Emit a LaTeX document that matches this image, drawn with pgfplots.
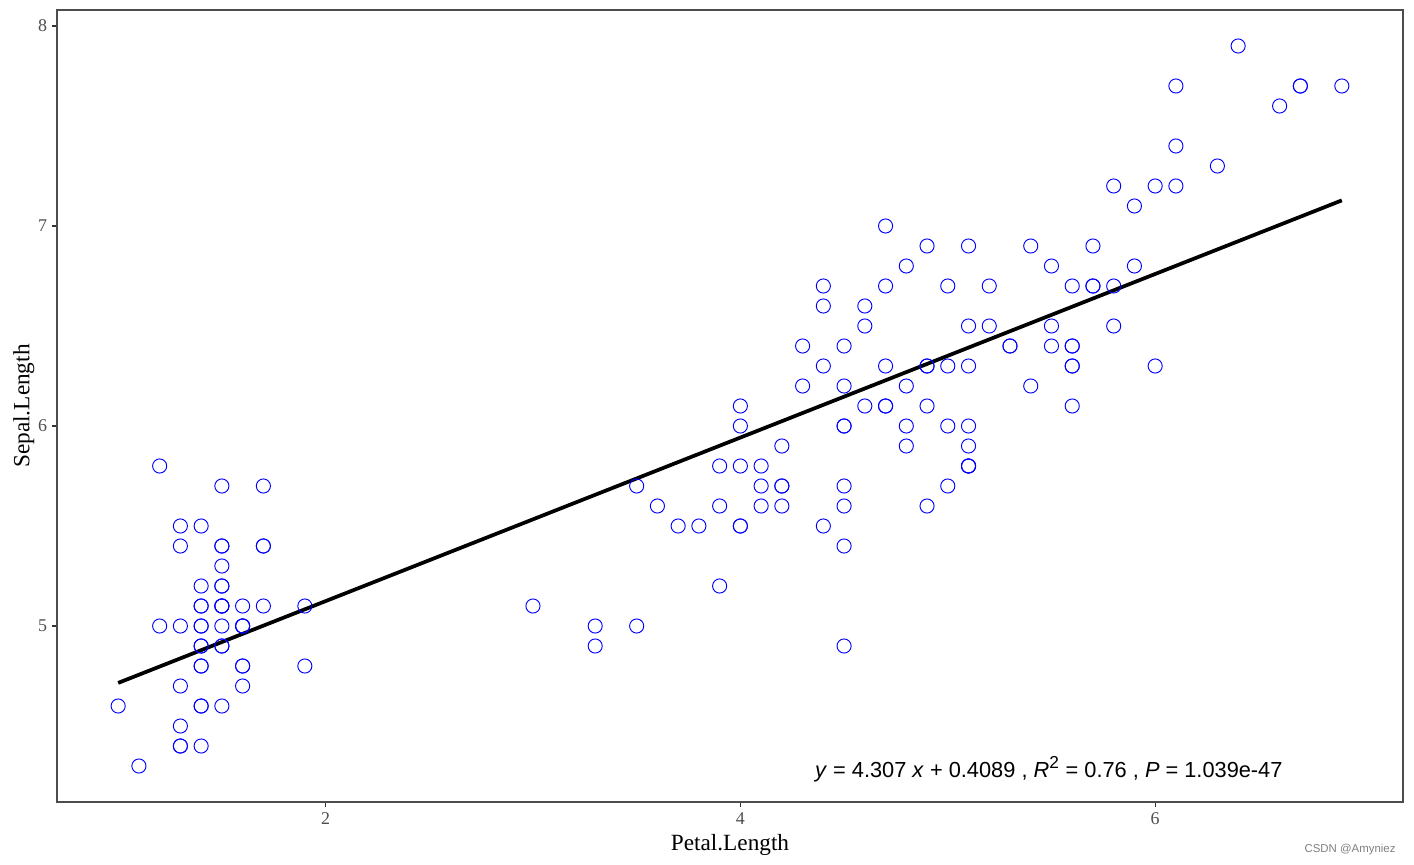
\documentclass[border=0pt]{standalone}
\usepackage{fontspec}
\setmainfont{Liberation Serif}
\newfontfamily\arial{Liberation Sans}
\usepackage{pgfplots}
\usepackage{pgfplotstable}
\pgfplotsset{compat=1.18}
\definecolor{axisgrey}{HTML}{4D4D4D}
\definecolor{tickgrey}{HTML}{333333}
\pgfplotstableread{
pl sl
1.4 5.1
1.4 4.9
1.3 4.7
1.5 4.6
1.4 5.0
1.7 5.4
1.4 4.6
1.5 5.0
1.4 4.4
1.5 4.9
1.5 5.4
1.6 4.8
1.4 4.8
1.1 4.3
1.2 5.8
1.5 5.7
1.3 5.4
1.4 5.1
1.7 5.7
1.5 5.1
1.7 5.4
1.5 5.1
1.0 4.6
1.7 5.1
1.9 4.8
1.6 5.0
1.6 5.0
1.5 5.2
1.4 5.2
1.6 4.7
1.6 4.8
1.5 5.4
1.5 5.2
1.4 5.5
1.5 4.9
1.2 5.0
1.3 5.5
1.4 4.9
1.3 4.4
1.5 5.1
1.3 5.0
1.3 4.5
1.3 4.4
1.6 5.0
1.9 5.1
1.4 4.8
1.6 5.1
1.4 4.6
1.5 5.3
1.4 5.0
4.7 7.0
4.5 6.4
4.9 6.9
4.0 5.5
4.6 6.5
4.5 5.7
4.7 6.3
3.3 4.9
4.6 6.6
3.9 5.2
3.5 5.0
4.2 5.9
4.0 6.0
4.7 6.1
3.6 5.6
4.4 6.7
4.5 5.6
4.1 5.8
4.5 6.2
3.9 5.6
4.8 5.9
4.0 6.1
4.9 6.3
4.7 6.1
4.3 6.4
4.4 6.6
4.8 6.8
5.0 6.7
4.5 6.0
3.5 5.7
3.8 5.5
3.7 5.5
3.9 5.8
5.1 6.0
4.5 5.4
4.5 6.0
4.7 6.7
4.4 6.3
4.1 5.6
4.0 5.5
4.4 5.5
4.6 6.1
4.0 5.8
3.3 5.0
4.2 5.6
4.2 5.7
4.2 5.7
4.3 6.2
3.0 5.1
4.1 5.7
6.0 6.3
5.1 5.8
5.9 7.1
5.6 6.3
5.8 6.5
6.6 7.6
4.5 4.9
6.3 7.3
5.8 6.7
6.1 7.2
5.1 6.5
5.3 6.4
5.5 6.8
5.0 5.7
5.1 5.8
5.3 6.4
5.5 6.5
6.7 7.7
6.9 7.7
5.0 6.0
5.7 6.9
4.9 5.6
6.7 7.7
4.9 6.3
5.7 6.7
6.0 7.2
4.8 6.2
4.9 6.1
5.6 6.4
5.8 7.2
6.1 7.4
6.4 7.9
5.6 6.4
5.1 6.3
5.6 6.1
6.1 7.7
5.6 6.3
5.5 6.4
4.8 6.0
5.4 6.9
5.6 6.7
5.1 6.9
5.1 5.8
5.9 6.8
5.7 6.7
5.2 6.7
5.0 6.3
5.2 6.5
5.4 6.2
5.1 5.9
}\iris
\begin{document}
\begin{tikzpicture}
\begin{axis}[
  width=1009.5bp, height=594bp, scale only axis,
  xmin=0.705, xmax=7.195, ymin=4.12, ymax=8.08,
  xtick={2,4,6}, ytick={5,6,7,8},
  axis line style={draw=axisgrey, line width=0.8bp},
  tick style={draw=tickgrey, line width=0.8bp},
  tick align=outside, major tick length=3.5bp,
  xtick pos=bottom, ytick pos=left,
  ticklabel style={font=\fontsize{13.5}{14}\selectfont, text=axisgrey},
  /pgf/number format/assume math mode=true,
  xticklabel style={yshift=-1bp},
  yticklabel style={xshift=-0.5bp},
  xlabel={Petal.Length}, ylabel={Sepal.Length},
  label style={font=\fontsize{17.5}{18}\selectfont},
  xlabel style={at={(axis description cs:0.5,-0.0615)}, anchor=base},
  ylabel style={at={(axis description cs:-0.0205,0.5)}, anchor=base, rotate=0},
  clip=false,
]
\addplot[only marks, mark=o, mark size=5.3bp, mark options={draw=blue, line width=0.7bp}] table[x=pl, y=sl] {\iris};
\addplot[black, line width=2.8bp] coordinates {(1.0,4.7155) (6.9,7.1281)};
\node[anchor=base west, font=\arial\fontsize{16.4}{17}\selectfont, inner sep=0pt] at (axis cs:4.359,4.245)
  {\textit{y} = 4.307 \textit{x} + 0.4089 , \textit{R}\textsuperscript{\fontsize{13}{13}\selectfont 2} = 0.76 , \textit{P} = 1.039e-47};
\node[anchor=base east, font=\arial\fontsize{8.6}{9}\selectfont, text=gray, inner sep=0pt] at (axis cs:7.16,3.87) {CSDN @Amyniez};
\end{axis}
\pgfresetboundingbox
\useasboundingbox ([shift={(-42.75bp,-46.5bp)}]current axis.south west) rectangle ([shift={(8.25bp,7.5bp)}]current axis.north east);
\end{tikzpicture}
\end{document}
